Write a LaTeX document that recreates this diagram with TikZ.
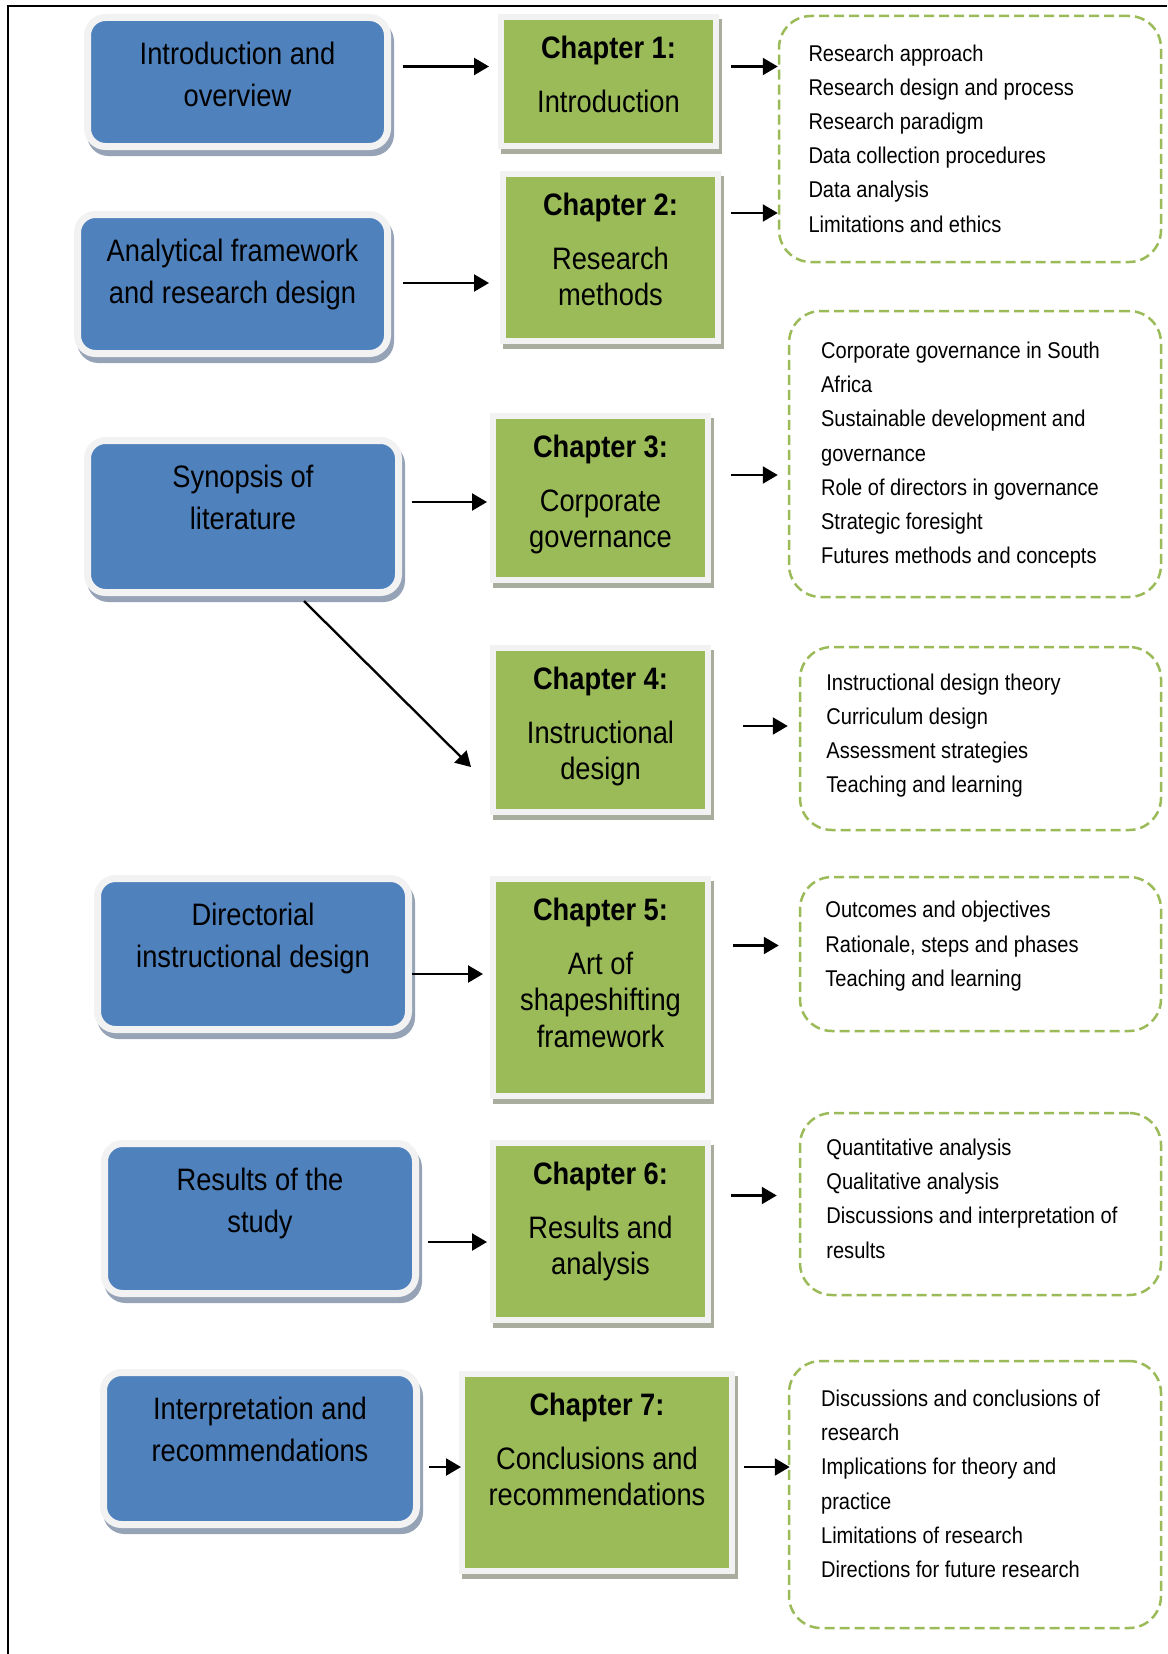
\documentclass[tikz,border=0pt]{standalone}
\usepackage{fontspec}
\setmainfont{Liberation Sans}[FakeStretch=0.88]
\usetikzlibrary{arrows.meta, positioning, shadows}

\definecolor{topicblue}{HTML}{4F81BD}
\definecolor{chapgreen}{HTML}{9BBB59}
\definecolor{rimgray}{HTML}{F2F2F2}
\definecolor{shadeblue}{HTML}{96A3B6}
\definecolor{shadegreen}{HTML}{A8AD9E}

\begin{document}
\begin{tikzpicture}[
  x=1pt, y=1pt,
  topic/.style={rounded corners=18pt, fill=topicblue, draw=rimgray, line width=7pt, inner sep=0pt,
                copy shadow={shadow xshift=3pt, shadow yshift=-6pt, fill=shadeblue,
                             draw=shadeblue, line width=7pt}},
  topictxt/.style={font=\fontsize{31}{41.7}\selectfont, align=center, inner sep=0pt},
  chap/.style={fill=chapgreen, draw=rimgray, line width=6pt, inner sep=0pt, minimum width=215pt,
               copy shadow={shadow xshift=3pt, shadow yshift=-5pt, fill=shadegreen,
                            draw=shadegreen, line width=6pt}},
  chaptxt/.style={font=\fontsize{31}{36.4}\selectfont, align=center, inner sep=0pt},
  items/.style={draw=chapgreen, line width=2.5pt, dash pattern=on 10pt off 5pt,
                rounded corners=32pt, inner sep=0pt},
  itemtxt/.style={font=\fontsize{22.8}{34.2}\selectfont, align=left, inner sep=0pt, anchor=north west},
  arr/.style={-{Triangle[length=15pt, width=17pt]}, line width=2.3pt},
]
\useasboundingbox (0,0) rectangle (1167,-1654);

% frame
\draw[line width=2.4pt] (1167,-6.2) -- (7.8,-6.2) -- (7.8,-1654);

% topics
\node[topic, minimum width=300pt, minimum height=129pt] (intro)       at (237.5,-82)    {};
\node[topic, minimum width=310pt, minimum height=139pt] (framework)   at (232.5,-284)   {};
\node[topic, minimum width=311pt, minimum height=152pt] (synopsis)    at (243,-516.5)   {};
\node[topic, minimum width=311pt, minimum height=151pt] (directorial) at (253,-954)     {};
\node[topic, minimum width=311pt, minimum height=150pt] (results)     at (260,-1218.5)  {};
\node[topic, minimum width=313pt, minimum height=152pt] (interp)      at (260,-1448.5)  {};

\node[topictxt, below=27.8pt of intro.north]       (introtxt)       {Introduction and\\overview};
\node[topictxt, below=27.8pt of framework.north]   (frameworktxt)   {Analytical framework\\and research design};
\node[topictxt, below=27.8pt of synopsis.north]    (synopsistxt)    {Synopsis of\\literature};
\node[topictxt, below=27.8pt of directorial.north] (directorialtxt) {Directorial\\instructional design};
\node[topictxt, below=27.8pt of results.north]     (resultstxt)     {Results of the\\study};
\node[topictxt, below=27.8pt of interp.north]      (interptxt)      {Interpretation and\\recommendations};

% chapters
\node[chap, minimum height=129pt] (ch1) at (608.5,-81.5)  {};
\node[chap, minimum height=167pt] (ch2) at (610.5,-257.5) {};
\node[chap, minimum height=164pt] (ch3) at (600.5,-498)   {};
\node[chap, minimum height=164pt] (ch4) at (600.5,-730)   {};
\node[chap, minimum height=217pt] (ch5) at (600.5,-987.5) {};
\node[chap, minimum height=177pt] (ch6) at (600.5,-1231.5) {};
\node[chap, minimum height=197pt, minimum width=270pt] (ch7) at (597,-1472.5) {};

\node[chaptxt, below=21.8pt of ch1.north] (ch1txt) {\textbf{Chapter 1:}\\[17.6pt]Introduction};
\node[chaptxt, below=21.8pt of ch2.north] (ch2txt) {\textbf{Chapter 2:}\\[17.6pt]Research\\methods};
\node[chaptxt, below=21.8pt of ch3.north] (ch3txt) {\textbf{Chapter 3:}\\[17.6pt]Corporate\\governance};
\node[chaptxt, below=21.8pt of ch4.north] (ch4txt) {\textbf{Chapter 4:}\\[17.6pt]Instructional\\design};
\node[chaptxt, below=21.8pt of ch5.north] (ch5txt) {\textbf{Chapter 5:}\\[17.6pt]Art of\\shapeshifting\\framework};
\node[chaptxt, below=21.8pt of ch6.north] (ch6txt) {\textbf{Chapter 6:}\\[17.6pt]Results and\\analysis};
\node[chaptxt, below=21.8pt of ch7.north] (ch7txt) {\textbf{Chapter 7:}\\[17.6pt]Conclusions and\\recommendations};

% contents
\node[items, minimum width=382pt, minimum height=246pt] (list1) at (970,-139)     {};
\node[items, minimum width=372pt, minimum height=286pt] (list2) at (975,-454)     {};
\node[items, minimum width=361pt, minimum height=183pt] (list3) at (980.5,-738.5) {};
\node[items, minimum width=361pt, minimum height=154pt] (list4) at (980.5,-954)   {};
\node[items, minimum width=361pt, minimum height=182pt] (list5) at (980.5,-1204)  {};
\node[items, minimum width=372pt, minimum height=267pt] (list6) at (975,-1494.5)  {};

\node[itemtxt] (list1txt) at (808.3,-44.4) {Research approach\\Research design and process\\Research paradigm\\Data collection procedures\\Data analysis\\Limitations and ethics};
\node[itemtxt] (list2txt) at (820.9,-341.7) {Corporate governance in South\\Africa\\Sustainable development and\\governance\\Role of directors in governance\\Strategic foresight\\Futures methods and concepts};
\node[itemtxt] (list3txt) at (826.2,-673.3) {Instructional design theory\\Curriculum design\\Assessment strategies\\Teaching and learning};
\node[itemtxt] (list4txt) at (825.2,-901.2) {Outcomes and objectives\\Rationale, steps and phases\\Teaching and learning};
\node[itemtxt] (list5txt) at (826.2,-1138.7) {Quantitative analysis\\Qualitative analysis\\Discussions and interpretation of\\results};
\node[itemtxt] (list6txt) at (820.9,-1389.7) {Discussions and conclusions of\\research\\Implications for theory and\\practice\\Limitations of research\\Directions for future research};

% topic -> chapter
\draw[arr] ([xshift=11.5pt, yshift=15.5pt]intro.east)      -- ([xshift=-9pt, yshift=15pt]ch1.west);
\draw[arr] ([xshift=11.5pt, yshift=1pt]framework.east)     -- ([xshift=-11pt, yshift=-25.5pt]ch2.west);
\draw[arr] ([xshift=9.5pt, yshift=14.5pt]synopsis.east)    -- ([xshift=-3pt, yshift=-4pt]ch3.west);
\draw[arr] ([xshift=61pt, yshift=-5pt]synopsis.south)      -- ([xshift=-19pt, yshift=-37pt]ch4.west);
\draw[arr] ([yshift=-20pt]directorial.east)                -- ([xshift=-7pt, yshift=13.5pt]ch5.west);
\draw[arr] ([xshift=8.5pt, yshift=-23.5pt]results.east)    -- ([xshift=-3pt, yshift=-10.5pt]ch6.west);
\draw[arr] ([xshift=8.5pt, yshift=-18.5pt]interp.east)     -- ([xshift=2pt, yshift=5.5pt]ch7.west);

% chapter -> contents
\draw[arr] ([xshift=12pt, yshift=15pt]ch1.east) -- ([yshift=72.5pt]list1.west);
\draw[arr] ([xshift=10pt, yshift=44.5pt]ch2.east) -- ([yshift=-74pt]list1.west);
\draw[arr] ([xshift=20pt, yshift=23pt]ch3.east) -- ([xshift=-10pt, yshift=-21pt]list2.west);
\draw[arr] ([xshift=32pt, yshift=4pt]ch4.east) -- ([xshift=-11pt, yshift=12.5pt]list3.west);
\draw[arr] ([xshift=22pt, yshift=42pt]ch5.east) -- ([xshift=-20pt, yshift=8.5pt]list4.west);
\draw[arr] ([xshift=20pt, yshift=36pt]ch6.east) -- ([xshift=-22pt, yshift=8.5pt]list5.west);
\draw[arr] ([xshift=9pt, yshift=5.5pt]ch7.east) -- ([xshift=2pt, yshift=27.5pt]list6.west);
\end{tikzpicture}
\end{document}
